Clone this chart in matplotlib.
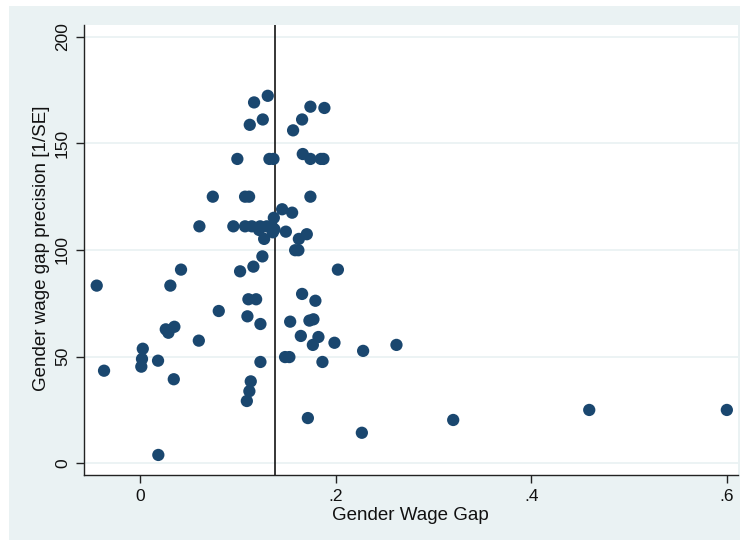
import matplotlib
matplotlib.use('Agg')
import matplotlib.pyplot as plt
from matplotlib.patches import Rectangle

plt.rcParams['font.family'] = ['Liberation Sans', 'DejaVu Sans']

# estimated gender wage gaps and their precision (1/SE)
gap = [0.1306, 0.1166, 0.1742, 0.1885, 0.1255, 0.1122, 0.1657, 0.1565,
       0.0995, 0.1323, 0.1364, 0.1664, 0.1742, 0.1849, 0.1875,
       0.0744, 0.1074, 0.1115, 0.1742, 0.1453, 0.1555, 0.1368,
       0.0607, 0.0954, 0.1074, 0.1143, 0.1228, 0.1296, 0.1347,
       0.1217, 0.1374, 0.1358, 0.1491, 0.1705, 0.1624, 0.1269,
       0.1586, 0.1619, 0.1251, 0.0419, 0.1023, 0.1159, 0.2023,
       -0.0443, 0.0310, 0.1108, 0.1187, 0.0805, 0.1098, 0.1231,
       0.1657, 0.1793, 0.1535, 0.1732, 0.1773, 0.0263, 0.0290, 0.0351,
       0.0601, 0.1644, 0.1824, 0.1767, 0.1988, 0.2281, 0.2622,
       0.0028, 0.0020, 0.0013, 0.0184, -0.0368, 0.0345, 0.1231,
       0.1483, 0.1527, 0.1865, 0.1132, 0.1118, 0.1092, 0.1716,
       0.2268, 0.0187, 0.3202, 0.4593, 0.6000]
precision = [172.3, 169.2, 167.2, 166.6, 161.2, 158.7, 161.2, 156.1,
             142.7, 142.7, 142.7, 145.0, 142.7, 142.7, 142.7,
             125.0, 125.0, 125.0, 125.0, 119.1, 117.5, 115.1,
             111.1, 111.1, 111.1, 111.1, 111.1, 111.1, 111.1,
             109.4, 109.7, 108.3, 108.6, 107.4, 105.2, 105.2,
             99.9, 99.9, 97.0, 90.8, 90.0, 92.2, 90.8,
             83.3, 83.3, 76.9, 76.9, 71.4, 68.9, 65.3,
             79.4, 76.2, 66.4, 66.9, 67.5, 62.8, 61.2, 64.0,
             57.5, 59.7, 59.2, 55.5, 56.5, 52.7, 55.5,
             53.7, 48.9, 45.3, 48.1, 43.4, 39.4, 47.5,
             49.8, 49.8, 47.5, 38.4, 33.8, 29.2, 21.2,
             14.3, 3.9, 20.3, 25.0, 25.0]
mean_gap = 0.1384

xticks = [0, 0.2, 0.4, 0.6]
xticklabels = ['0', '.2', '.4', '.6']
yticks = [0, 50, 100, 150, 200]

fig = plt.figure(figsize=(7.44, 5.44), dpi=100, facecolor='white')
# light graph region behind the plot
bg = Rectangle((9/744, 1 - 540/544), 731/744, 534/544,
               transform=fig.transFigure, facecolor='#eaf2f3',
               edgecolor='none', zorder=-10)
fig.add_artist(bg)

ax = fig.add_axes([84/744, 1 - 475/544, 653.6/744, 450/544])
ax.set_zorder(5)
ax.set_facecolor('white')

ax.scatter(gap, precision, s=78, color='#1a476f', edgecolors='none', zorder=3)
ax.axvline(mean_gap, color='black', lw=1.1, zorder=2)

ax.set_xlim(-0.0573, 0.611)
ax.set_ylim(-5.5, 205.5)
ax.set_xticks(xticks)
ax.set_xticklabels(xticklabels)
ax.set_yticks(yticks)
ax.set_yticklabels([str(v) for v in yticks], rotation=90, va='center')

ax.grid(axis='y', color='#eaf2f3', lw=1.3, zorder=1)
ax.grid(axis='x', visible=False)

for side in ['top', 'right']:
    ax.spines[side].set_visible(False)
for side in ['left', 'bottom']:
    ax.spines[side].set_color('#222222')
    ax.spines[side].set_linewidth(1.0)

ax.tick_params(axis='both', direction='out', length=6, width=1.0,
               color='#222222', labelsize=12.5, labelcolor='#111111', pad=4)

ax.set_xlabel('Gender Wage Gap', fontsize=13.5, color='#111111', va='center')
ax.set_ylabel('Gender wage gap precision [1/SE]', fontsize=13.5,
              color='#111111', va='center')
# label positions in axes fractions
ax.xaxis.set_label_coords(0.499, -0.089)
ax.yaxis.set_label_coords(-0.065, 0.503)

fig.savefig('out.png', dpi=100, facecolor=fig.get_facecolor())
